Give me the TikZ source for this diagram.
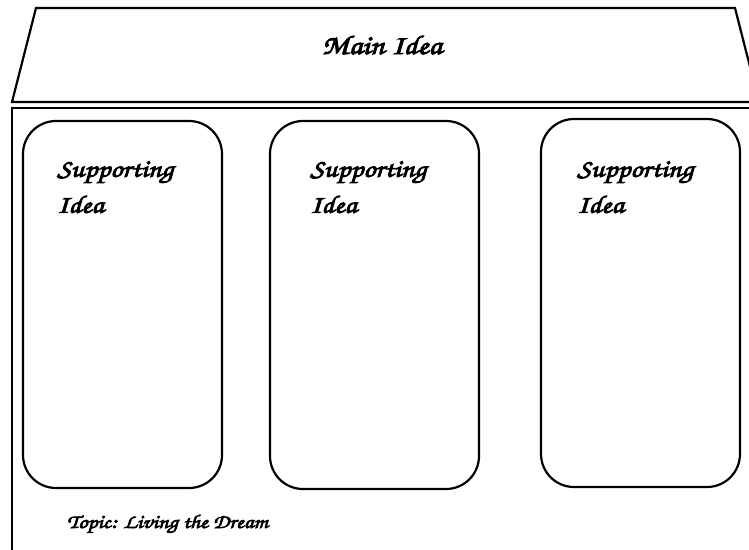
\documentclass[tikz,border=0pt]{standalone}
\usepackage{fontspec}
\newfontfamily\handfont[FakeStretch=1.18,RawFeature={embolden=3.5}]{texgyrechorus-mediumitalic.otf}
\begin{document}
\begin{tikzpicture}[x=1pt,y=-1pt,
  outline/.style={draw=black,line width=2.2pt,line join=miter},
  ideabox/.style={outline,rounded corners=33pt,inner sep=0pt},
  boxlabel/.style={anchor=north west,align=left,inner sep=0pt,
    font=\handfont\fontsize{25}{36}\selectfont},
  headlabel/.style={anchor=base,inner sep=0pt,font=\handfont\fontsize{27}{30}\selectfont},
  footlabel/.style={anchor=base west,inner sep=0pt,font=\handfont\fontsize{19.5}{22}\selectfont}]
\useasboundingbox (0,0) rectangle (749,549);
\clip (0,0) rectangle (749,549);

% roof with the main idea
\draw[outline] (36,8) -- (735,8) -- (759,102) -- (12,102) -- cycle;
\node[headlabel] (main) at (382,54) {Main Idea};

% body of the organiser
\draw[outline] (12,560) -- (12,108) -- (760,108);

% three supporting idea boxes
\node[ideabox,minimum width=199pt,minimum height=367pt] (box1) at (122.5,304.5) {};
\node[ideabox,minimum width=209pt,minimum height=368pt] (box2) at (374.5,305) {};
\node[ideabox,minimum width=199pt,minimum height=368pt] (box3) at (640.5,303) {};

\node[boxlabel] (lab1) at (57,161) {Supporting\\Idea};
\node[boxlabel] (lab2) at (310,161) {Supporting\\Idea};
\node[boxlabel] (lab3) at (577,161) {Supporting\\Idea};

\node[footlabel] (topic) at (67,528) {Topic: Living the Dream};
\end{tikzpicture}
\end{document}
